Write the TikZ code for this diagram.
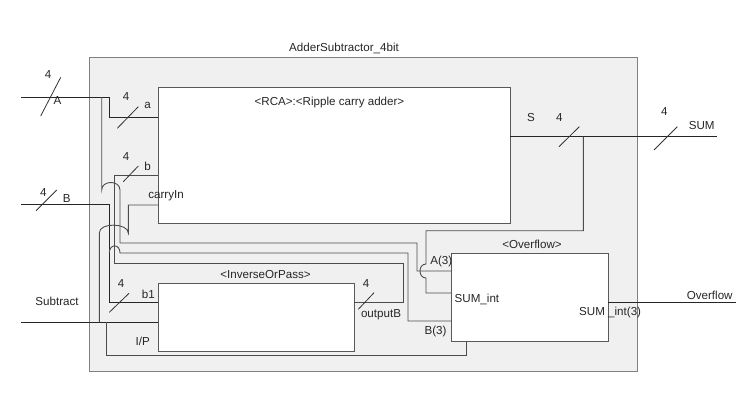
\documentclass[tikz,border=0pt]{standalone}
\usepackage{fontspec}
\setmainfont{Liberation Sans}
\begin{document}
\begin{tikzpicture}[x=1pt,y=-1pt,
  font=\fontsize{11.6}{13}\selectfont,
  lbl/.style={inner sep=0pt, text=black!85},
  wire/.style={draw=black!70, line width=0.9pt},
  ext/.style={draw=black!85, line width=0.9pt},
  slash/.style={draw=black!80, line width=0.8pt},
  blk/.style={draw=black!65, fill=white, line width=0.9pt, inner sep=0pt},
  outerbox/.style={draw=black!50, fill=black!6, line width=0.9pt, inner sep=0pt}]
\useasboundingbox (0,0) rectangle (749,402);

% boxes
\node[outerbox, minimum width=548.4pt, minimum height=314pt] (outer) at (363.5,214.3) {};
\node[blk, minimum width=352pt, minimum height=136.4pt] (rca) at (334,155.5) {};
\node[blk, minimum width=196pt, minimum height=67.7pt] (iop) at (256.3,317.2) {};
\node[blk, minimum width=156.6pt, minimum height=88pt] (ovf) at (530,297.7) {};

% end points and ports
\coordinate (Ain) at (21,97);
\coordinate (Bin) at (21,204.3);
\coordinate (Subin) at (21,322.3);
\coordinate (SUMout) at (716.7,136.7);
\coordinate (OVout) at (736,302.3);
\coordinate (pa) at (158,117);
\coordinate (pb) at (158,175);
\coordinate (pc) at (158,205);
\coordinate (pS) at (510,136.7);
\coordinate (pb1) at (158.3,302);
\coordinate (pIP) at (158.3,322.3);
\coordinate (poB) at (354.3,302.7);
\coordinate (pA3) at (451.7,271);
\coordinate (pSI) at (451.7,293);
\coordinate (pB3) at (451.7,321);
\coordinate (pBot) at (466,341.7);
\coordinate (pOut) at (608.3,302.3);

% wires
\draw[ext] (Ain) -- (109.3,97) -- (109.3,117) -- (pa);
\draw[wire] (101.7,97) -- (101.7,190) .. controls (101.7,180) and (120,180) .. (120,190)
  -- (120,243) -- (417,243) -- (417,271) -- (pA3);
\draw[ext] (Bin) -- (109.3,204.3) -- (109.3,302) -- (pb1);
\draw[wire] (109.3,253) .. controls (109.3,243.5) and (120,243.5) .. (120,253)
  -- (408,253) -- (408,321) -- (pB3);
\draw[wire] (poB) -- (403,302.7) -- (403,263) -- (114,263) -- (114,175) -- (pb);
\draw[ext] (Subin) -- (pIP);
\draw[wire] (99.3,322.3) -- (99.3,233) .. controls (99.3,222) and (128.3,223) .. (128.3,233)
  -- (128.3,205) -- (pc);
\draw[wire] (106.7,322.3) -- (106.7,355.7) -- (466,355.7) -- (pBot);
\draw[ext] (pS) -- (SUMout);
\draw[wire] (583.3,136.7) -- (583.3,230.7) -- (426,230.7) -- (426,264)
  .. controls (418,264) and (418,278) .. (426,278) -- (426,293) -- (pSI);
\draw[ext] (pOut) -- (OVout);

% bus slashes
\draw[slash] (40.7,116) -- (60.7,77.3);
\draw[slash] (117.3,128.3) -- (138.3,106.7);
\draw[slash] (123.3,181.7) -- (138.3,166);
\draw[slash] (36,210.7) -- (56.7,190);
\draw[slash] (109.3,312.3) -- (129,293.3);
\draw[slash] (358.3,309.3) -- (374,292.7);
\draw[slash] (559,146.7) -- (579.3,126.7);
\draw[slash] (654,150) -- (677.3,126.7);

% labels
\node[lbl] (title) at (344,48.5) {AdderSubtractor\_4bit};
\node[lbl] (rcal) at (329.5,102.3) {<RCA>:<Ripple carry adder>};
\node[lbl] (iopl) at (265.5,274.3) {<InverseOrPass>};
\node[lbl] (ovfl) at (532,244) {<Overflow>};

\node[lbl] (nA) at (48,75) {4};
\node[lbl] (lA) at (57.5,100.7) {A};
\node[lbl] (na) at (126,96.7) {4};
\node[lbl] (la) at (147.7,105.7) {a};
\node[lbl] (nb) at (126,156.7) {4};
\node[lbl] (lb) at (147.7,166.7) {b};
\node[lbl] (nB) at (43.3,192.7) {4};
\node[lbl] (lB) at (66.7,199) {B};
\node[lbl] (lcin) at (166,195.7) {carryIn};
\node[lbl] (lsub) at (57,301.7) {Subtract};
\node[lbl] (nb1) at (121,284) {4};
\node[lbl] (lb1) at (148.3,294) {b1};
\node[lbl] (lip) at (142.8,341) {I/P};
\node[lbl] (nob) at (366,284) {4};
\node[lbl] (lob) at (381,315) {outputB};
\node[lbl] (lS) at (531,117.7) {S};
\node[lbl] (nS) at (559.3,117.7) {4};
\node[lbl] (nSUM) at (664.3,111.7) {4};
\node[lbl] (lSUM) at (701.7,125.7) {SUM};
\node[lbl] (lA3) at (441.3,261.7) {A(3)};
\node[lbl, anchor=west] (lSI) at (454.5,299) {SUM\_int};
\node[lbl] (lB3) at (435.5,331.7) {B(3)};
\node[lbl, anchor=west] (lSI3) at (579,312.5) {SUM \_int(3)};
\node[lbl] (lOV) at (709.7,295) {Overflow};
\end{tikzpicture}
\end{document}
